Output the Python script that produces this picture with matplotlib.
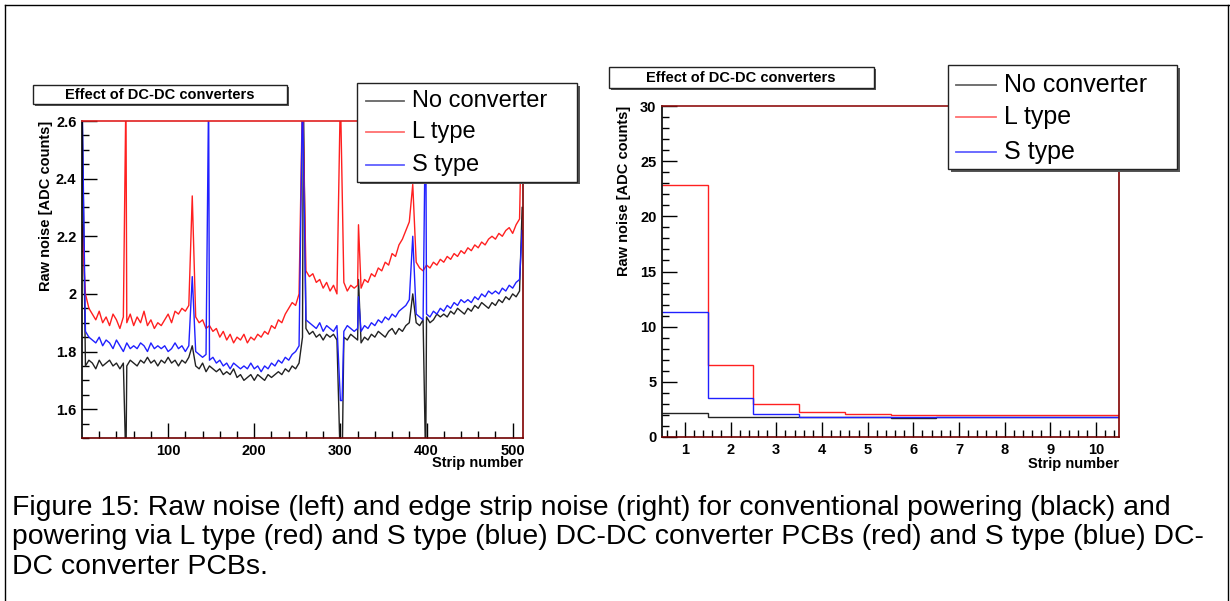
import numpy as np
import matplotlib.pyplot as plt
from matplotlib.patches import Rectangle
from matplotlib.lines import Line2D

plt.rcParams['font.family'] = ['Liberation Sans', 'DejaVu Sans']

# ---- left panel: raw noise per strip, read every 4 strips ----
strip_grid = list(range(0, 512, 4))

black_grid = [
    1.78, 1.75, 1.77, 1.76, 1.74, 1.77, 1.75, 1.76,
    1.77, 1.75, 1.76, 1.74, 1.76, 1.75, 1.77, 1.76,
    1.75, 1.77, 1.76, 1.78, 1.76, 1.77, 1.75, 1.77,
    1.76, 1.78, 1.76, 1.77, 1.75, 1.77, 1.76, 1.78,
    1.80, 1.75, 1.74, 1.76, 1.73, 1.75, 1.74, 1.73,
    1.74, 1.72, 1.73, 1.72, 1.74, 1.71, 1.72, 1.70,
    1.71, 1.72, 1.70, 1.72, 1.71, 1.70, 1.72, 1.71,
    1.72, 1.73, 1.72, 1.74, 1.73, 1.75, 1.74, 1.76,
    1.85, 1.88, 1.86, 1.87, 1.85, 1.86, 1.84, 1.86,
    1.85, 1.86, 1.84, 1.86, 1.85, 1.84, 1.86, 1.85,
    1.84, 1.83, 1.85, 1.84, 1.86, 1.85, 1.87, 1.86,
    1.85, 1.87, 1.88, 1.86, 1.88, 1.87, 1.89, 1.90,
    1.91, 1.90, 1.89, 1.91, 1.92, 1.90, 1.91, 1.93,
    1.92, 1.93, 1.92, 1.94, 1.93, 1.95, 1.94, 1.93,
    1.95, 1.94, 1.96, 1.95, 1.97, 1.96, 1.95, 1.97,
    1.96, 1.98, 1.97, 1.99, 1.98, 2.00, 1.99, 2.01,
]
red_grid = [
    2.24, 2.00, 1.95, 1.93, 1.91, 1.94, 1.90, 1.92,
    1.89, 1.93, 1.91, 1.88, 1.92, 1.90, 1.93, 1.89,
    1.92, 1.90, 1.94, 1.89, 1.91, 1.88, 1.90, 1.89,
    1.91, 1.93, 1.90, 1.94, 1.93, 1.95, 1.94, 1.96,
    1.98, 1.92, 1.90, 1.91, 1.88, 1.89, 1.87, 1.88,
    1.85, 1.87, 1.84, 1.86, 1.83, 1.85, 1.84, 1.86,
    1.83, 1.85, 1.84, 1.86, 1.85, 1.87, 1.86, 1.89,
    1.88, 1.91, 1.90, 1.93, 1.95, 1.97, 1.96, 2.00,
    2.10, 2.08, 2.06, 2.07, 2.04, 2.05, 2.02, 2.04,
    2.01, 2.03, 2.00, 2.02, 2.04, 2.01, 2.03, 2.02,
    2.03, 2.02, 2.05, 2.04, 2.07, 2.06, 2.09, 2.08,
    2.11, 2.10, 2.14, 2.13, 2.17, 2.19, 2.22, 2.25,
    2.20, 2.11, 2.09, 2.08, 2.10, 2.09, 2.11, 2.10,
    2.12, 2.11, 2.13, 2.12, 2.14, 2.13, 2.15, 2.14,
    2.16, 2.15, 2.17, 2.16, 2.18, 2.17, 2.19, 2.20,
    2.19, 2.21, 2.20, 2.22, 2.23, 2.21, 2.24, 2.26,
]
blue_grid = [
    2.60, 1.87, 1.85, 1.84, 1.83, 1.85, 1.82, 1.84,
    1.83, 1.81, 1.84, 1.82, 1.80, 1.83, 1.81, 1.82,
    1.81, 1.83, 1.82, 1.80, 1.83, 1.81, 1.82, 1.81,
    1.82, 1.80, 1.81, 1.83, 1.81, 1.82, 1.80, 1.82,
    1.84, 1.80, 1.79, 1.78, 1.79, 1.77, 1.78, 1.76,
    1.77, 1.75, 1.76, 1.74, 1.76, 1.75, 1.74, 1.75,
    1.74, 1.76, 1.74, 1.75, 1.73, 1.75, 1.74, 1.76,
    1.75, 1.77, 1.76, 1.78, 1.77, 1.79, 1.80, 1.82,
    1.94, 1.91, 1.90, 1.89, 1.88, 1.90, 1.87, 1.89,
    1.88, 1.87, 1.89, 1.88, 1.87, 1.89, 1.88, 1.87,
    1.88, 1.87, 1.89, 1.88, 1.90, 1.89, 1.91, 1.90,
    1.92, 1.91, 1.93, 1.92, 1.94, 1.95, 1.96, 1.98,
    1.96, 1.93, 1.92, 1.91, 1.93, 1.92, 1.94, 1.93,
    1.95, 1.94, 1.96, 1.95, 1.97, 1.96, 1.98, 1.97,
    1.98, 1.97, 1.99, 1.98, 2.00, 1.99, 2.01, 2.00,
    2.01, 2.00, 2.02, 2.01, 2.03, 2.02, 2.04, 2.05,
]

# single-strip spikes / dips (strip: value)
black_spikes = {0: 2.70, 51: 1.40, 128: 1.82, 257: 2.70, 300: 1.40, 302: 1.40,
                321: 2.05, 384: 2.00, 399: 1.40, 511: 2.30}
red_spikes = {51: 2.70, 128: 2.34, 256: 2.70, 300: 2.70, 321: 2.24,
              384: 2.38, 511: 2.70}
blue_spikes = {0: 2.70, 128: 2.06, 147: 2.70, 256: 2.70, 300: 1.63,
               302: 1.63, 321: 1.99, 384: 2.20, 399: 2.70, 511: 2.22}

# ---- right panel: edge strip noise ----
edge_strips = [1, 2, 3, 4, 5, 6, 7, 8, 9, 10]
edge_black = [2.2, 1.8, 1.8, 1.8, 1.8, 1.75, 1.8, 1.8, 1.8, 1.8]
edge_red = [22.85, 6.5, 3.0, 2.25, 2.06, 2.0, 2.0, 1.95, 2.02, 1.95]
edge_blue = [11.36, 3.55, 2.1, 1.85, 1.85, 1.8, 1.8, 1.8, 1.8, 1.85]

labels = ['No converter', 'L type', 'S type']
colors = ['#222222', '#ff2020', '#2020ff']
leg_colors = ['#666666', '#ff7070', '#6060ff']

W, H = 1230, 601


def fx(px):
    return px / W


def fy(py):
    return 1 - py / H


def merge(grid, spikes):
    d = dict(zip(strip_grid, grid))
    d.update(spikes)
    xs = sorted(d)
    return xs, [d[k] for k in xs]


fig = plt.figure(figsize=(12.3, 6.01), dpi=100)

# outer frame
fig.add_artist(Line2D([fx(5), fx(5)], [fy(5), 0], transform=fig.transFigure, color='black', lw=1))
fig.add_artist(Line2D([fx(5), 1], [fy(5), fy(5)], transform=fig.transFigure, color='black', lw=1))
fig.add_artist(Line2D([fx(1228), fx(1228)], [fy(5), 0], transform=fig.transFigure, color='black', lw=1))


def style_axes(ax, top_color):
    ax.tick_params(which='both', direction='in', top=False, right=False,
                   labelsize=10.5, pad=4)
    ax.tick_params(which='major', length=11, width=1)
    ax.tick_params(which='minor', length=5, width=1)
    for lab in ax.get_xticklabels() + ax.get_yticklabels():
        lab.set_fontweight('bold')
    ax.spines['left'].set_color('black')
    ax.spines['bottom'].set_color('#700000')
    ax.spines['top'].set_color(top_color)
    ax.spines['right'].set_color('#800000')
    for s in ax.spines.values():
        s.set_linewidth(1.2)


def shadow_box(x0, y0, x1, y1, sh=3):
    fig.add_artist(Rectangle((fx(x0 + sh), fy(y1 + sh)), fx(x1 - x0), (y1 - y0) / H,
                             transform=fig.transFigure, facecolor='#555555',
                             edgecolor='none', zorder=5))
    fig.add_artist(Rectangle((fx(x0), fy(y1)), fx(x1 - x0), (y1 - y0) / H,
                             transform=fig.transFigure, facecolor='white',
                             edgecolor='#222222', lw=1, zorder=6))


def legend_box(x0, y0, x1, rows, fs, line_x):
    shadow_box(x0, y0, x1, rows[-1] + (rows[1] - rows[0]) / 2 + 1)
    for r, lab, c in zip(rows, labels, leg_colors):
        fig.add_artist(Line2D([fx(line_x[0]), fx(line_x[1])], [fy(r), fy(r)],
                              transform=fig.transFigure, color=c, lw=1.3, zorder=7))
        fig.text(fx(line_x[1] + 8), fy(r), lab, fontsize=fs, va='center',
                 ha='left', zorder=7)


# left panel
ax1 = fig.add_axes([fx(82), fy(438), fx(523) - fx(82), fy(121) - fy(438)])
for grid, spikes, c in [(black_grid, black_spikes, colors[0]),
                        (red_grid, red_spikes, colors[1]),
                        (blue_grid, blue_spikes, colors[2])]:
    xs, ys = merge(grid, spikes)
    ax1.plot(xs, ys, color=c, lw=1.0)
ax1.set_xlim(0, 512)
ax1.set_ylim(1.5, 2.6)
ax1.set_xticks([100, 200, 300, 400, 500])
ax1.set_xticks(np.arange(20, 512, 20), minor=True)
ax1.set_yticks([1.6, 1.8, 2.0, 2.2, 2.4, 2.6])
ax1.set_yticklabels(['1.6', '1.8', '2', '2.2', '2.4', '2.6'])
ax1.set_yticks(np.arange(1.5, 2.601, 0.05), minor=True)
style_axes(ax1, '#e02020')

fig.text(fx(46), fy(121), 'Raw noise [ADC counts]', rotation=90, ha='center', va='top',
         fontsize=10.5, fontweight='bold')
fig.text(fx(523), fy(463), 'Strip number', ha='right', va='center',
         fontsize=10.5, fontweight='bold')

shadow_box(33, 85, 287, 104, sh=2)
fig.text(fx(160), fy(95), 'Effect of DC-DC converters', ha='center', va='center',
         fontsize=10.5, fontweight='bold', zorder=7)
legend_box(357, 83, 577, [101, 132, 165], 17, (366, 404))

# right panel
ax2 = fig.add_axes([fx(662), fy(437), fx(1119) - fx(662), fy(106) - fy(437)])
edges = np.arange(0.5, 11.0, 1.0)
ax2.stairs(edge_black, edges, color=colors[0], lw=1.0, baseline=None)
ax2.stairs(edge_red, edges, color=colors[1], lw=1.0, baseline=None)
ax2.stairs(edge_blue, edges, color=colors[2], lw=1.0, baseline=None)
ax2.set_xlim(0.5, 10.5)
ax2.set_ylim(0, 30)
ax2.set_xticks(edge_strips)
ax2.set_xticks(np.arange(0.6, 10.5, 0.2), minor=True)
ax2.set_yticks([0, 5, 10, 15, 20, 25, 30])
ax2.set_yticks(np.arange(0, 30.1, 1), minor=True)
style_axes(ax2, '#901010')

fig.text(fx(624), fy(106), 'Raw noise [ADC counts]', rotation=90, ha='center', va='top',
         fontsize=10.5, fontweight='bold')
fig.text(fx(1119), fy(464), 'Strip number', ha='right', va='center',
         fontsize=10.5, fontweight='bold')

shadow_box(609, 67, 874, 88, sh=2)
fig.text(fx(741), fy(78), 'Effect of DC-DC converters', ha='center', va='center',
         fontsize=10.5, fontweight='bold', zorder=7)
legend_box(948, 65, 1177, [85, 117, 152], 18, (956, 996))

# caption
caption = ['Figure 15: Raw noise (left) and edge strip noise (right) for conventional powering (black) and',
           'powering via L type (red) and S type (blue) DC-DC converter PCBs (red) and S type (blue) DC-',
           'DC converter PCBs.']
for i, line in enumerate(caption):
    fig.text(fx(12), fy(508 + 29.5 * i), line, ha='left', va='center', fontsize=20.4)

fig.savefig('out.png', dpi=100)
